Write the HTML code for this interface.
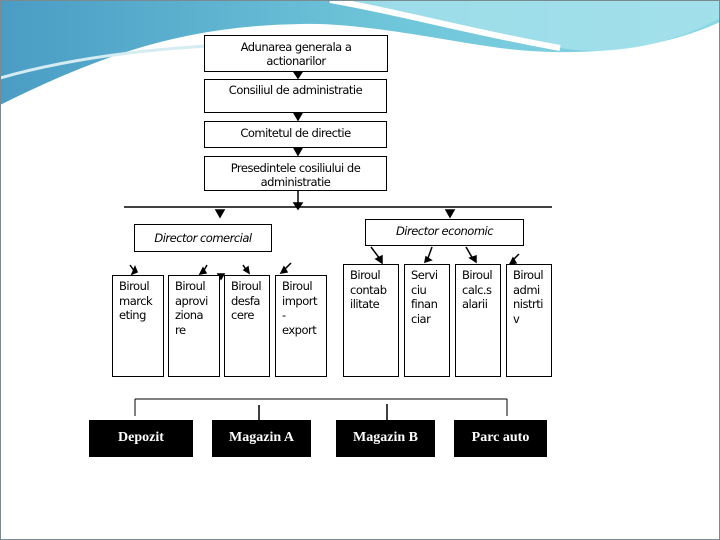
<!DOCTYPE html>
<html><head><meta charset="utf-8"><style>
body{margin:0;width:720px;height:540px;overflow:hidden;background:#fff;font-family:"DejaVu Sans","Liberation Sans",sans-serif}
.b{position:absolute;border:1px solid #000;background:#fff;box-sizing:border-box;font-size:11.5px;letter-spacing:-0.5px;color:#000;text-align:center;line-height:14px}
.s{text-align:left;padding:3px 0 0 6px;line-height:14.5px;font-size:11.5px}
.k{position:absolute;background:#000;color:#fff;font-family:"Liberation Serif",serif;font-size:14px;font-weight:bold;text-align:center;line-height:36px}
.i{font-style:italic}
</style></head><body>
<svg width="720" height="540" style="position:absolute;left:0;top:0">
<defs><linearGradient id="g" x1="0" x2="1"><stop offset="0" stop-color="#4a9cc4"/><stop offset="0.5" stop-color="#6cc3d8"/><stop offset="1" stop-color="#8ad8e4"/></linearGradient></defs>
<path d="M0 0H720V22C660 50 580 58 500 48C440 40 360 22 300 24C200 26 120 45 0 105Z" fill="url(#g)"/>
<path d="M330 0C400 12 470 32 560 48C620 58 680 40 720 18V0Z" fill="#a8e2ec" opacity="0.8"/>
<path d="M330 0C400 12 470 32 560 48" stroke="#fff" stroke-width="6" fill="none"/>
<path d="M0 78C80 55 200 40 330 45" stroke="#d4ecf2" stroke-width="3" fill="none"/>
<rect x="0.5" y="0.5" width="719" height="539" fill="none" stroke="#7a8a90"/>
<g stroke="#000" stroke-width="1.5" fill="#000">
<line x1="298" y1="190" x2="298" y2="205"/><path d="M294 203h8l-4 6z"/>
<line x1="124" y1="207" x2="552" y2="207"/>
<path d="M216 210h8l-4 7z"/><path d="M446 210h8l-4 7z"/>
<path d="M294 72h8l-4 6z"/><path d="M294 113h8l-4 7z"/><path d="M294 148h8l-4 7z"/>
<line x1="135" y1="399" x2="507" y2="399" stroke-width="1"/>
<line x1="135" y1="399" x2="135" y2="416" stroke-width="1"/>
<line x1="507" y1="399" x2="507" y2="416" stroke-width="1"/>
<line x1="259" y1="405" x2="259" y2="420"/><line x1="387" y1="404" x2="387" y2="420"/>
<line x1="130" y1="265" x2="135" y2="272"/><path d="M132 274l5-2-2-5z"/>
<line x1="207" y1="265" x2="203" y2="272"/><path d="M200 274l6-1-3-5z"/>
<line x1="243" y1="265" x2="247" y2="271"/><path d="M249 273l-1-6-4 3z"/>
<line x1="291" y1="263" x2="284" y2="270"/><path d="M281 273l6-1-3-5z"/>
<path d="M218 274h6l-3 5z"/>
<line x1="371" y1="247" x2="380" y2="259"/><path d="M382 263l0-7-6 3z"/>
<line x1="432" y1="247" x2="428" y2="258"/><path d="M425 262l6-2-5-3z"/>
<line x1="466" y1="247" x2="473" y2="259"/><path d="M476 262l0-6-6 2z"/>
<line x1="519" y1="254" x2="513" y2="260"/><path d="M510 264l6-1-3-5z"/>
</g></svg>
<div class="b" style="left:204px;top:35px;width:184px;height:37px;padding-top:4px">Adunarea generala a<br>actionarilor</div>
<div class="b" style="left:204px;top:79px;width:183px;height:34px;padding-top:3px">Consiliul de administratie</div>
<div class="b" style="left:204px;top:121px;width:183px;height:27px;padding-top:4px">Comitetul de directie</div>
<div class="b" style="left:204px;top:156px;width:183px;height:35px;padding-top:4px">Presedintele cosiliului de<br>administratie</div>
<div class="b i" style="left:134px;top:224px;width:138px;height:28px;padding-top:6px">Director comercial</div>
<div class="b i" style="left:365px;top:219px;width:159px;height:27px;padding-top:4px">Director economic</div>
<div class="b s" style="left:112px;top:275px;width:52px;height:102px">Biroul<br>marck<br>eting</div>
<div class="b s" style="left:168px;top:275px;width:52px;height:102px">Biroul<br>aprovi<br>ziona<br>re</div>
<div class="b s" style="left:224px;top:275px;width:46px;height:102px">Biroul<br>desfa<br>cere</div>
<div class="b s" style="left:275px;top:275px;width:52px;height:102px">Biroul<br>import<br>-<br>export</div>
<div class="b s" style="left:343px;top:264px;width:56px;height:113px">Biroul<br>contab<br>ilitate</div>
<div class="b s" style="left:404px;top:264px;width:46px;height:113px">Servi<br>ciu<br>finan<br>ciar</div>
<div class="b s" style="left:455px;top:264px;width:46px;height:113px">Biroul<br>calc.s<br>alarii</div>
<div class="b s" style="left:506px;top:264px;width:46px;height:113px">Biroul<br>admi<br>nistrti<br>v</div>
<div class="k" style="left:89px;top:420px;width:104px;height:37px">Depozit</div>
<div class="k" style="left:212px;top:420px;width:99px;height:37px">Magazin A</div>
<div class="k" style="left:336px;top:420px;width:99px;height:37px">Magazin B</div>
<div class="k" style="left:454px;top:420px;width:93px;height:37px">Parc auto</div>
</body></html>
